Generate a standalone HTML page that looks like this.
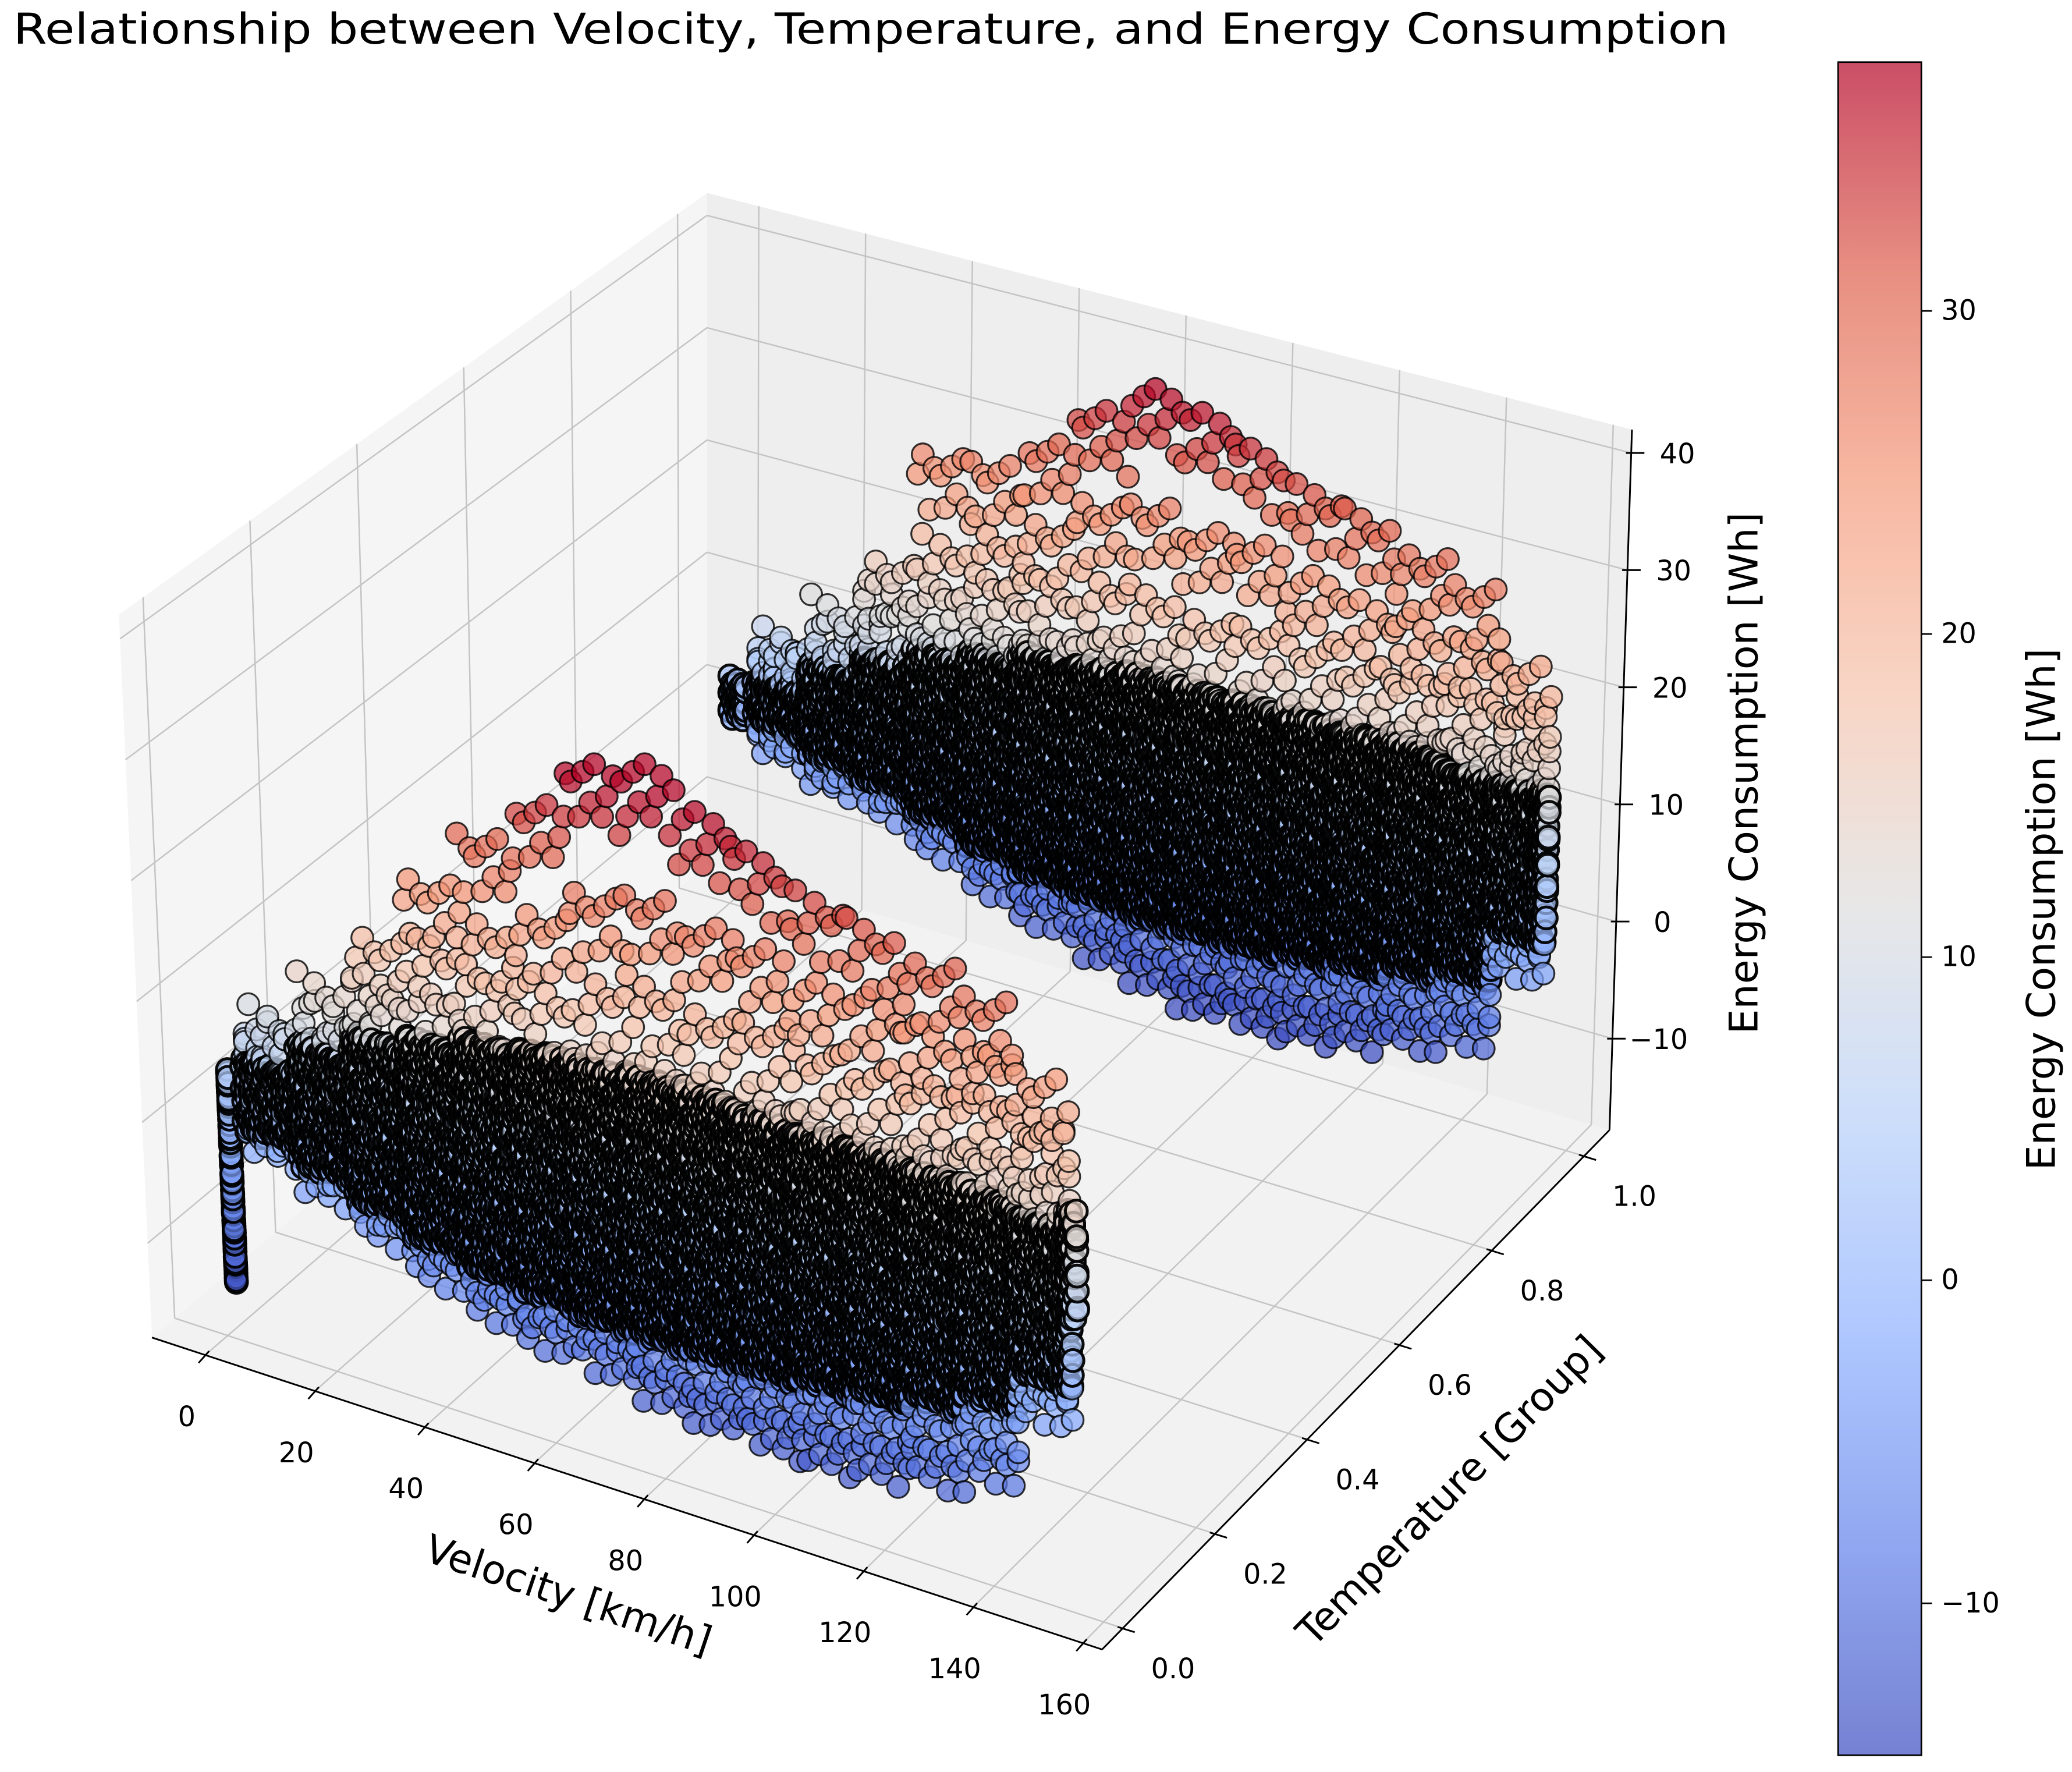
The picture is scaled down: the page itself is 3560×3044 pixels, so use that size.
<!DOCTYPE html>
<html><head><meta charset="utf-8"><title>Velocity, Temperature, Energy</title>
<style>
html,body{margin:0;padding:0;background:#fff;}
svg{display:block;font-family:"DejaVu Sans","Liberation Sans",sans-serif;}
</style></head>
<body>
<svg id="chart" xmlns="http://www.w3.org/2000/svg" width="3560" height="3044" viewBox="0 0 1568 1340.7">
  <rect x="0" y="0" width="1568" height="1341" fill="#fff"/>
  <text x="10" y="33" font-size="32" textLength="1298" lengthAdjust="spacingAndGlyphs" fill="#000">Relationship between Velocity, Temperature, and Energy Consumption</text>
  <g id="panes"></g>
  <g id="grid"></g>
  <g id="axes"></g>
  <g id="points"></g>
  <g id="cbar"></g>
</svg>
<script>
// ---- data ----
const velocityTicks = [0, 20, 40, 60, 80, 100, 120, 140, 160];
const temperatureTicks = [0.0, 0.2, 0.4, 0.6, 0.8, 1.0];
const energyTicks = [-10, 0, 10, 20, 30, 40];
const colorbarTicks = [-10, 0, 10, 20, 30];
const velocityBins = [10, 20, 30, 40, 50, 60, 70, 80, 90, 100, 110, 120, 130, 140, 150];
const frontTemperature = 0;
const backTemperature = 1;
const frontEnergy = [
  [-0.5,0.5,1.5,2.5,3,3.5,4,4.5,5,6,7,8],
  [-2.5,-1,0.5,1.5,2.5,3.5,4.5,5.5,6.5,8,10,12],
  [-4.5,-3,-1,0.5,2,3.5,5,6.5,8,10.5,13.5,17],
  [-6.5,-4.5,-2.5,-0.5,1.5,3.5,5.5,7.5,10,13.5,18,23],
  [-8,-6,-3.5,-1,1.5,4,6.5,9,12,16,21,28],
  [-9,-6.5,-4,-1.5,1,3.5,6,9,12.5,17,23,32],
  [-9.5,-7,-4.5,-2,1,4,7,10,14,19,26,36.5],
  [-10.5,-8,-5,-2,1,4,7,10.5,14.5,20,27,37.7],
  [-11,-8.5,-5.5,-2.5,0.5,3.5,6.5,10,14,19,26,35],
  [-11.3,-8.5,-5.5,-2.5,0.5,3.5,7,10.5,14.5,19.5,25.5,33],
  [-11.3,-8.5,-5.5,-2.5,0.5,3.5,7,10,14,18.5,24,31],
  [-10.8,-8,-5,-2,1,4,7,10.5,14,18.5,24,30],
  [-9.8,-7,-4,-1,2,5,8,11,14.5,18.5,23,28.5],
  [-8,-5.5,-2.5,0.5,3.5,6.5,9.5,12.5,15.5,19,23,27],
  [-2,0,2,4,6,8,10,12,14,16.5,19,22]
];
const backEnergy = [
  [-2.5,-1.5,-0.5,0.5,1,1.5,2,2.5,3,3.5,4,5],
  [-4,-3,-2,-1,0,1,2,3,4,5.5,7,9],
  [-5,-3.5,-2,-0.5,1,2.5,4,5.5,7,9,11.5,14],
  [-7,-5,-3,-1,1,3,5,7,9.5,12.5,17,24.5],
  [-9,-7,-4.5,-2,0.5,3,5.5,8,11,14.5,19,25],
  [-10.5,-8,-5.5,-3,0,3,6,9,12,16,21,28],
  [-12,-9.5,-6.5,-3.5,-0.5,2.5,5.5,9,13,17.5,24,32],
  [-13,-10,-7,-4,-1,2,5,8.5,12.5,17.5,25,35],
  [-14,-11,-8,-5,-2,1,4,7.5,11.5,16.5,24,34],
  [-14,-11,-8,-5,-2,1,4.5,8,12,17,24,32],
  [-13.5,-10.5,-7.5,-4.5,-1.5,1.5,4.5,8,12,16.5,22.5,30],
  [-12.8,-10,-7,-4,-1,2,5,8.5,12,16,21.5,29],
  [-11.5,-9,-6,-3,0,3,6,9,12.5,16.5,21,27],
  [-10,-7.5,-5,-2,1,4,7,10,13,16.5,20.5,25.5],
  [-3,-1,1,3,5,7,9,11,13,15,17.5,20]
];
// dense core (where most observations fall) per velocity bin
const frontCoreLow  = [0,-1.5,-3,-4.5,-5.5,-6,-6.5,-6.5,-6.5,-6.5,-6,-5.5,-4.5,-3,0];
const frontCoreHigh = [6,8.5,10.5,12,13,14,14,14.5,14.5,14,14,14,13.5,13.5,13];
const backCoreLow   = [-1,-2.5,-3.5,-5,-6.5,-7.5,-8,-8.5,-8.5,-8.5,-8,-7.5,-6.5,-5.5,-1];
const backCoreHigh  = [3,5.5,7.5,9,10.5,11.5,12,12.5,12.5,12.5,12.5,12.5,12.5,12,12];
const frontStartVelocity = 2;
const frontStartEnergy = [-12.5,-11,-9.5,-8,-6.5,-5,-3.5,-2,-0.5,1,2.5,3.8];
const frontEndVelocity = 155;
const frontEndEnergy = [6,7,8,9,10,11,12,13,14];
const backStartVelocity = 1;
const backStartEnergy = [-0.8,-0.2,0.4,1,1.6];
const backEndVelocity = 154;
const backEndEnergy = [3,4.5,6,7.5,9,10.5,11.5];

// ---- axis ranges / projection ----
const VMIN=-9.7, VMAX=163.5, TMIN=-0.045, TMAX=1.055, ZMIN=-17.8, ZMAX=42;
const CMIN=-14.7, CMAX=37.7;
const B=[115,1012], A=[834,1248], D=[535,654], C=[1218,855];
const Bt=[90,465], At=[826,679], Dt=[535,146], Ct=[1235,325];
function bil(p00,p10,p01,p11,u,w){
  return [(1-u)*(1-w)*p00[0]+u*(1-w)*p10[0]+(1-u)*w*p01[0]+u*w*p11[0],
          (1-u)*(1-w)*p00[1]+u*(1-w)*p10[1]+(1-u)*w*p01[1]+u*w*p11[1]];
}
function P(u,w,h){
  const f=bil(B,A,D,C,u,w), t=bil(Bt,At,Dt,Ct,u,w);
  return [f[0]+h*(t[0]-f[0]), f[1]+h*(t[1]-f[1])];
}
const xs=v=>(v-VMIN)/(VMAX-VMIN), ys=t=>(t-TMIN)/(TMAX-TMIN), zs=z=>(z-ZMIN)/(ZMAX-ZMIN);
function proj(v,t,z){return P(xs(v),ys(t),zs(z));}

const NS='http://www.w3.org/2000/svg';
function mk(tag,parent,attrs){const e=document.createElementNS(NS,tag);for(const k in attrs)e.setAttribute(k,attrs[k]);parent.appendChild(e);return e;}
const pts=a=>a.map(p=>p[0].toFixed(1)+','+p[1].toFixed(1)).join(' ');

// panes
const panes=document.getElementById('panes');
let e;
e=mk('polygon',panes,{points:pts([P(0,0,0),P(1,0,0),P(1,1,0),P(0,1,0)]),fill:'#f2f2f2'});


e=mk('polygon',panes,{points:pts([P(0,0,0),P(0,1,0),P(0,1,1),P(0,0,1)]),fill:'#f5f5f5'});


e=mk('polygon',panes,{points:pts([P(0,1,0),P(1,1,0),P(1,1,1),P(0,1,1)]),fill:'#eeeeee'});



// grid
const grid=document.getElementById('grid');
function gl(p,q,name){const l=mk('line',grid,{x1:p[0],y1:p[1],x2:q[0],y2:q[1],stroke:'#c4c4c4','stroke-width':1.1});

}
velocityTicks.forEach(v=>{const u=xs(v);gl(P(u,0,0),P(u,1,0),'floor-grid-velocity');gl(P(u,1,0),P(u,1,1),'back-grid-velocity');});
temperatureTicks.forEach(t=>{const w=ys(t);gl(P(0,w,0),P(1,w,0),'floor-grid-temperature');gl(P(0,w,0),P(0,w,1),'left-grid-temperature');});
energyTicks.forEach(z=>{const h=zs(z);gl(P(0,1,h),P(1,1,h),'back-grid-energy');gl(P(0,0,h),P(0,1,h),'left-grid-energy');});

// axes
const axes=document.getElementById('axes');
function al(p,q,name){const l=mk('line',axes,{x1:p[0],y1:p[1],x2:q[0],y2:q[1],stroke:'#000','stroke-width':1.3});

return l;}
function tx(x,y,s,size,name,rot,anchor){const t=mk('text',axes,{x:x,y:y,'font-size':size,'text-anchor':anchor||'middle','dominant-baseline':'central',fill:'#000'});
if(rot)t.setAttribute('transform','rotate('+rot+' '+x+' '+y+')');t.textContent=s;

return t;}
const fmtN=n=>n<0?'\u2212'+Math.abs(n):String(n);
al(P(0,0,0),P(1,0,0),'velocity-axis-line');
velocityTicks.forEach(v=>{const p=P(xs(v),0,0);al([p[0]+3,p[1]-3],[p[0]-5,p[1]+6],'velocity-tick');tx(p[0]-14,p[1]+47,String(v),21,'velocity-tick-label');});
al(P(1,0,0),P(1,1,0),'temperature-axis-line');
temperatureTicks.forEach(t=>{const p=P(1,ys(t),0);al([p[0]-4,p[1]-1],[p[0]+9,p[1]+3],'temperature-tick');tx(p[0]+38,p[1]+31,t.toFixed(1),21,'temperature-tick-label');});
al(P(1,1,0),P(1,1,1),'energy-axis-line');
energyTicks.forEach(z=>{const p=P(1,1,zs(z));al([p[0]-4,p[1]],[p[0]+10,p[1]],'energy-tick');tx(p[0]+35,p[1]+1,fmtN(z),21,'energy-tick-label');});
tx(430,1207,'Velocity [km/h]',30,'x-axis-title',18.5);
tx(1097,1128,'Temperature [Group]',30,'y-axis-title',-45.5);
tx(1320,585,'Energy Consumption [Wh]',30,'z-axis-title',-90);

// colormap
const cmStops=[[0,[59,76,192]],[0.125,[98,130,234]],[0.25,[141,176,254]],[0.375,[184,208,249]],[0.5,[221,221,221]],[0.625,[245,196,173]],[0.75,[244,154,123]],[0.875,[222,96,77]],[1,[180,4,38]]];
function cmap(x){x=Math.max(0,Math.min(1,x));for(let i=1;i<cmStops.length;i++){if(x<=cmStops[i][0]){const a=cmStops[i-1],b=cmStops[i],f=(x-a[0])/(b[0]-a[0]);
return 'rgb('+[0,1,2].map(k=>Math.round(a[1][k]+f*(b[1][k]-a[1][k]))).join(',')+')';}}return 'rgb(180,4,38)';}
const cn=z=>(z-CMIN)/(CMAX-CMIN);

// points (positional jitter offsets are styling only)
const list=[];
const JV=[-4.6,-3.7,-2.4,-1.5,-0.3,0.6,1.8,2.7,3.9,4.8];
const JZ=[0.3,-1.2,0.9,-0.4,1.4,-0.9,0.1,1.1,-1.5,0.6];
const jz=i=>JZ[((i%10)+10)%10];
function addRows(energy,t,grp){energy.forEach((row,i)=>{const v=velocityBins[i];row.forEach((z,j)=>{const amp=j>=9?1.8:1;JV.forEach((dv,k)=>list.push({v:v+dv,t:t,z:z+amp*jz(k+j*3+i),g:grp,c:0}));});});}
function addCore(lo,hi,t,grp){velocityBins.forEach((v,i)=>{for(let dv=-5;dv<5;dv+=0.8){let n=0;for(let z=lo[i];z<=hi[i];z+=0.45){list.push({v:v+dv+0.3*jz(n+Math.round(dv*2)),t:t,z:z+jz(n*7+Math.round(dv*3))*0.2,g:grp,c:1});n++;}}});}
function addCol(v0,arr,t,grp,spread){arr.forEach((z,j)=>{spread.forEach((dv,k)=>list.push({v:v0+dv,t:t,z:z+jz(k+j)*0.5,g:grp,c:1}));});}
addRows(backEnergy,backTemperature,0);
addCore(backCoreLow,backCoreHigh,backTemperature,0);
addCol(backStartVelocity,backStartEnergy,backTemperature,0,[-1,-0.5,0,0.5,1,1.5,2]);
addCol(backEndVelocity,backEndEnergy,backTemperature,0,[-1,-0.5,0,0.5,1]);
addRows(frontEnergy,frontTemperature,1);
addCore(frontCoreLow,frontCoreHigh,frontTemperature,1);
addCol(frontStartVelocity,frontStartEnergy,frontTemperature,1,[0,0,0,0,0,0]);
addCol(frontEndVelocity,frontEndEnergy,frontTemperature,1,[-1,-0.5,0,0.5,1]);
list.sort((a,b)=>a.g-b.g||a.v-b.v);
const pg=document.getElementById('points');
list.forEach(d=>{const p=proj(d.v,d.t,d.z);
  if(!isFinite(p[0])||!isFinite(p[1]))return;
  const c=mk('circle',pg,{cx:p[0].toFixed(1),cy:p[1].toFixed(1),r:8.3,fill:cmap(cn(d.z)),'fill-opacity':0.72,stroke:'#000','stroke-opacity':d.c?0.95:0.8,'stroke-width':d.c?2.2:1.4});
  
  
});

// colorbar
const cb=document.getElementById('cbar');
const defs=mk('defs',cb,{});
const lg=mk('linearGradient',defs,{id:'cg',x1:0,y1:1,x2:0,y2:0});
cmStops.forEach(s=>mk('stop',lg,{offset:s[0],'stop-color':'rgb('+s[1].join(',')+')'}));
const CBX=1391,CBW=63,CBT=47,CBB=1328;
e=mk('rect',cb,{x:CBX,y:CBT,width:CBW,height:CBB-CBT,fill:'url(#cg)','fill-opacity':0.7});


e=mk('rect',cb,{x:CBX,y:CBT,width:CBW,height:CBB-CBT,fill:'none',stroke:'#000','stroke-width':1.2});


const cy=v=>CBT+(CMAX-v)/(CMAX-CMIN)*(CBB-CBT);
colorbarTicks.forEach(v=>{const y=cy(v);
  const l=mk('line',cb,{x1:CBX+CBW,y1:y,x2:CBX+CBW+8,y2:y,stroke:'#000','stroke-width':1.2});
  
  
  const t=mk('text',cb,{x:CBX+CBW+15,y:y,'font-size':21,'dominant-baseline':'central',fill:'#000'});
  t.textContent=fmtN(v);
  
  
});
const ct=mk('text',cb,{x:1545,y:688,'font-size':30,'text-anchor':'middle','dominant-baseline':'central',transform:'rotate(-90 1545 688)',fill:'#000'});
ct.textContent='Energy Consumption [Wh]';


</script>
</body></html>
